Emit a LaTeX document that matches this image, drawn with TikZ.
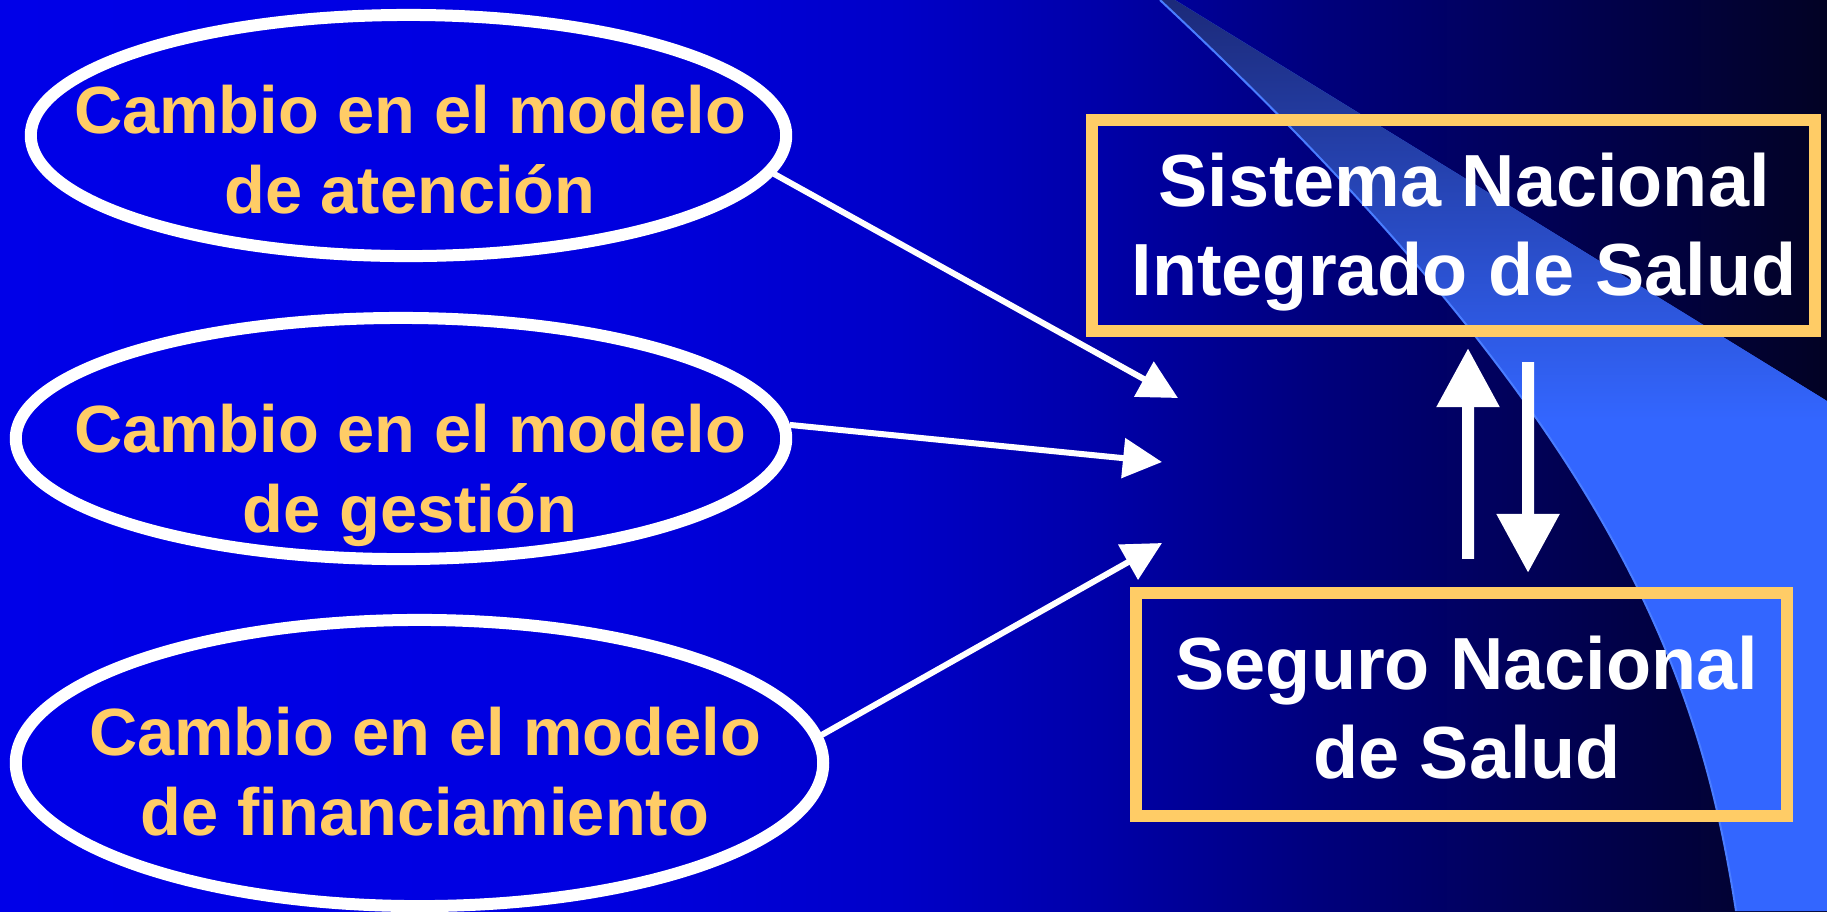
\documentclass[tikz,border=0pt]{standalone}
\usepackage{fontspec}
\setmainfont{Liberation Sans}
\usepackage{xcolor}
\definecolor{gold}{HTML}{FFCC66}
\definecolor{bgleft}{HTML}{0000E8}
\definecolor{bga}{HTML}{0000E0}
\definecolor{bgb}{HTML}{0000C8}
\definecolor{bgc}{HTML}{0000A8}
\definecolor{bgd}{HTML}{00007C}
\definecolor{bgright}{HTML}{020224}
\definecolor{swdark}{HTML}{1C2A7A}
\definecolor{swlight}{HTML}{3366FF}
\definecolor{swedge}{HTML}{4A7DFF}
\usepackage{tikz}
\usetikzlibrary{arrows.meta, positioning, shapes}
\pgfdeclarehorizontalshading{slidebg}{100bp}{color(0bp)=(bgleft); color(25bp)=(bgleft);
    color(41.4bp)=(bga); color(49.6bp)=(bgb); color(55.1bp)=(bgc);
    color(61.1bp)=(bgd); color(75bp)=(bgright); color(100bp)=(bgright)}
\tikzset{
    model/.style={
        ellipse, draw=white,
        line width=0.12cm,
        inner sep=0pt
    },
    sysbox/.style={
        rectangle, draw=gold,
        line width=0.12cm,
        inner sep=0pt
    },
    modeltext/.style={
        text=gold, inner sep=0pt, align=center,
        font=\fontsize{19}{22.8}\selectfont\bfseries
    },
    systext/.style={
        text=white, inner sep=0pt, align=center,
        font=\fontsize{21}{25.2}\selectfont\bfseries
    },
    conn/.style={
        white, line width=0.06cm,
        -{Triangle[length=0.39cm, width=0.39cm]},
    },
    link/.style={
        white, line width=0.12cm,
        -{Triangle[length=0.59cm, width=0.6cm]},
    },
}

\begin{document}
\begin{tikzpicture}[x=0.01cm, y=-0.01cm]
    \useasboundingbox (0,0) rectangle (1827,911);
    % Background and swoosh
    \shade[shading=slidebg] (0,0) rectangle (1827,911);
    \fill[swlight] (1175,0) -- (1827,401) -- (1827,911) -- (1736,911)
        .. controls (1700,680) and (1620,430) .. (1160,0) -- cycle;
    \begin{scope}
        \clip (1175,0) -- (1827,401) -- (1827,911) -- (1736,911)
            .. controls (1700,680) and (1620,430) .. (1160,0) -- cycle;
        \shade[top color=swdark, bottom color=swlight] (1150,0) rectangle (1827,420);
    \end{scope}
    \draw[swedge, line width=0.02cm] (1736,911) .. controls (1700,680) and (1620,430) .. (1160,0);

    % Draw the three models
    \node[model, minimum width=7.55cm, minimum height=2.41cm] (atencion) at (408.5,135.5) {};
    \node[model, minimum width=7.70cm, minimum height=2.41cm] (gestion) at (401,438.5) {};
    \node[model, minimum width=8.07cm, minimum height=2.86cm] (financ) at (419.5,763) {};
    \node[modeltext] (atencion-t) at (410,150) {Cambio en el modelo\\de atención};
    \node[modeltext] (gestion-t) at (410,475.7) {Cambio en el modelo\\de gestión};
    \node[modeltext] (financ-t) at (425,772) {Cambio en el modelo\\de financiamiento};

    % Draw the two systems
    \node[sysbox, minimum width=7.23cm, minimum height=2.105cm] (sistema) at (1453.5,225.75) {};
    \node[sysbox, minimum width=6.51cm, minimum height=2.23cm] (seguro) at (1461.5,704.5) {};
    \node[systext] (sistema-t) at (1464,232) {Sistema Nacional\\Integrado de Salud};
    \node[systext] (seguro-t) at (1467,707.7) {Seguro Nacional\\de Salud};

    \coordinate (tip1) at (1178,398);
    \coordinate (tip2) at (1162,462);
    \coordinate (tip3) at (1162,543);
    \draw[conn] (atencion.354) -- (tip1);
    \draw[conn] (gestion.2.3) -- (tip2);
    \draw[conn] (financ.4.2) -- (tip3);

    \draw[link] ([xshift=0.065cm, yshift=0.28cm]seguro.north) -- ([xshift=0.145cm, yshift=-0.11cm]sistema.south);
    \draw[link] ([xshift=0.745cm, yshift=-0.25cm]sistema.south) -- ([xshift=0.665cm, yshift=0.14cm]seguro.north);
\end{tikzpicture}
\end{document}
